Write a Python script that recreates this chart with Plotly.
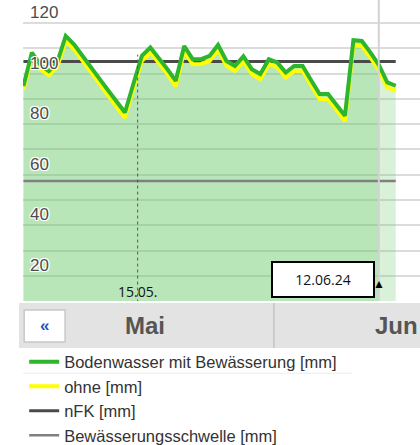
import plotly.graph_objects as go
import pandas as pd

# daily values, 01.05. - 14.06.2024 (one reading per day)
days = pd.date_range("2024-05-01 12:00", periods=45, freq="D")

bodenwasser = [95.1, 108.3, 103.5, 101.0, 104.5, 114.9, 111.5, 106.8, 102.3, 97.9,
               93.4, 89.0, 84.6, 96.0, 107.0, 110.3, 106.3, 101.8, 97.1, 110.9,
               105.7, 105.7, 107.0, 111.3, 105.0, 103.0, 106.8, 101.7, 99.8, 105.7,
               104.4, 100.4, 103.0, 103.0, 97.4, 91.9, 91.9, 87.6, 83.3, 113.2,
               112.9, 108.4, 103.5, 96.5, 95.2]
ohne = [93.6, 106.6, 101.8, 99.3, 102.6, 112.9, 109.6, 104.9, 100.4, 95.9,
        91.4, 86.9, 82.5, 94.2, 105.1, 108.4, 104.4, 99.9, 95.0, 108.9,
        103.7, 103.8, 105.0, 109.4, 103.1, 101.1, 104.8, 99.8, 97.8, 103.8,
        102.5, 98.5, 101.1, 101.1, 95.5, 90.0, 90.0, 85.6, 81.2, 111.2,
        110.9, 106.4, 101.5, 94.6, 93.3]
nfk = 104.8
schwelle = 57.5

today = "2024-06-12 12:00"
marker_day = "2024-05-15"
n_today = 42  # index of today in days

fig = go.Figure()

# area under the soil water line, lighter for the forecast part
fig.add_trace(go.Scatter(x=days[:n_today + 1], y=bodenwasser[:n_today + 1], mode='lines', fill='tozeroy',
                         fillcolor='rgba(100,200,100,0.45)', line=dict(width=0),
                         showlegend=False, hoverinfo='skip'))
fig.add_trace(go.Scatter(x=days[n_today:], y=bodenwasser[n_today:], mode='lines', fill='tozeroy',
                         fillcolor='rgba(100,200,100,0.25)', line=dict(width=0),
                         showlegend=False, hoverinfo='skip'))

fig.add_trace(go.Scatter(x=days, y=[schwelle] * len(days), mode='lines', name='Bewässerungsschwelle [mm]',
                         line=dict(color='#808080', width=2.5), legendrank=4))
fig.add_trace(go.Scatter(x=days, y=[nfk] * len(days), mode='lines', name='nFK [mm]',
                         line=dict(color='#4a4a4a', width=3), legendrank=3))
fig.add_trace(go.Scatter(x=days, y=ohne, mode='lines', name='ohne [mm]',
                         line=dict(color='#ffff00', width=4), legendrank=2))
fig.add_trace(go.Scatter(x=days, y=bodenwasser, mode='lines', name='Bodenwasser mit Bewässerung [mm]',
                         line=dict(color='#2db52d', width=4), legendrank=1))

# vertical lines: today and the 15.05. marker
fig.add_shape(type='line', xref='x', yref='paper', x0=today, x1=today, y0=0, y1=1,
              line=dict(color='#d2d2d2', width=2))
fig.add_shape(type='line', xref='x', yref='y', x0=marker_day, x1=marker_day, y0=0, y1=107.5,
              line=dict(color='#555555', width=1, dash='dot'))

# navigator bar under the plot
fig.add_shape(type='rect', xref='paper', yref='paper', x0=-0.01, x1=1.0, y0=-0.007, y1=-0.156,
              line=dict(width=0), fillcolor='#e3e3e3', layer='above')
fig.add_shape(type='line', xref='paper', yref='paper', x0=0.632, x1=0.632, y0=-0.007, y1=-0.156,
              line=dict(color='#c4c4c4', width=1.5), layer='above')
fig.add_shape(type='rect', xref='paper', yref='paper', x0=0.003, x1=0.106, y0=-0.030, y1=-0.136,
              line=dict(color='#c8c8c8', width=1.5), fillcolor='white', layer='above')
# faint row separator in the legend
fig.add_shape(type='line', xref='paper', yref='paper', x0=0.0, x1=0.829, y0=-0.24, y1=-0.24,
              line=dict(color='#ececec', width=1), layer='above')

ann = dict(xanchor='center', yanchor='middle', showarrow=False)
fig.add_annotation(text='<b>«</b>', xref='paper', yref='paper', x=0.053, y=-0.082, **ann,
                   font=dict(family='Liberation Sans, Arial', size=17, color='#2255bb'))
fig.add_annotation(text='<b>Mai</b>', xref='paper', yref='paper', x=0.307, y=-0.080, **ann,
                   font=dict(family='Liberation Sans, Arial', size=24, color='#555555'))
fig.add_annotation(text='<b>Jun</b>', xref='paper', yref='paper', x=0.941, y=-0.080, **ann,
                   font=dict(family='Liberation Sans, Arial', size=24, color='#555555'))

fig.add_annotation(text='15.05.', xref='x', yref='paper', x=marker_day, y=0.030, **ann,
                   font=dict(family='Open Sans', size=14, color='#111111'))
fig.add_annotation(text='12.06.24', xref='paper', yref='paper', x=0.7557, y=0.0714, **ann,
                   width=98, height=31, bgcolor='white', bordercolor='black', borderwidth=2,
                   font=dict(family='Open Sans', size=14, color='#111111'))
fig.add_annotation(text='▲', xref='x', yref='paper', x=today, y=0.056, **ann,
                   font=dict(size=12, color='black'))

halo = '-1px -1px 0 #fff, 1px -1px 0 #fff, -1px 1px 0 #fff, 1px 1px 0 #fff, 0 0 2px #fff'

fig.update_layout(
    width=420, height=445,
    margin=dict(l=23, r=0, t=0, b=144, autoexpand=False),
    plot_bgcolor='white', paper_bgcolor='white',
    font=dict(family='Liberation Sans, Arial', color='#333333'),
    hovermode=False,
    legend=dict(x=0.003, y=-0.145, xanchor='left', yanchor='top', traceorder='normal',
                font=dict(size=16.5, color='#333333'), bgcolor='rgba(0,0,0,0)',
                itemwidth=30, tracegroupgap=0),
)
fig.update_xaxes(range=['2024-05-01 10:48', '2024-06-17 08:53'], showgrid=False,
                 showticklabels=False, zeroline=False, showline=False, ticks='')
fig.update_yaxes(range=[10.1, 129.1], tick0=0, dtick=20, showgrid=True, gridcolor='#dcdcdc',
                 gridwidth=1.5, zeroline=False, showline=False, ticks='',
                 minor=dict(dtick=10, showgrid=True, gridcolor='#dcdcdc', gridwidth=1.5),
                 ticklabelposition='inside', ticklabelshift=-11, ticklabelstandoff=4,
                 tickfont=dict(size=17, color='#4d4d4d', shadow=halo))

fig.write_html("out.html", config={'displayModeBar': False},
               post_script="document.body.style.margin='0';")
